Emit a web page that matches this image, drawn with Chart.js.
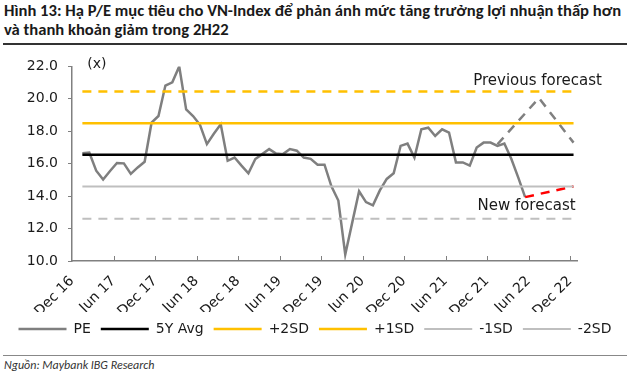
<!DOCTYPE html>
<html lang="vi">
<head>
<meta charset="UTF-8">
<title>Hình 13: P/E mục tiêu VN-Index</title>
<script src="https://cdn.jsdelivr.net/npm/chart.js"></script>
<style>
  body { margin: 0; background: #fff; }
  #wrap { position: relative; width: 630px; height: 375px; overflow: hidden; }
  #title { position: absolute; left: 4px; top: 1px; width: 626px; font: bold 16.6px Carlito, Lato, sans-serif; line-height: 19px; color: #1a1a1a; white-space: nowrap; }
  #rule1 { position: absolute; left: 3px; top: 43px; width: 624px; height: 2px; background: #333; }
  #chart { position: absolute; left: 0; top: 48px; }
  #rule2 { position: absolute; left: 3px; top: 355px; width: 624px; height: 1px; background: #888; }
  #source { position: absolute; left: 4px; top: 358px; font: italic 12px Carlito, Lato, sans-serif; color: #333; }
</style>
</head>
<body>
<div id="wrap">
  <div id="title">Hình 13: Hạ P/E mục tiêu cho VN-Index để phản ánh mức tăng trưởng lợi nhuận thấp hơn<br>và thanh khoản giảm trong 2H22</div>
  <div id="rule1"></div>
  <canvas id="chart" width="630" height="300"></canvas>
  <div id="rule2"></div>
  <div id="source">Nguồn: Maybank IBG Research</div>
</div>
<script>
// x axis labels, one every 6 months starting Dec 16
const tickLabels = ['Dec 16', 'Jun 17', 'Dec 17', 'Jun 18', 'Dec 18', 'Jun 19', 'Dec 19',
  'Jun 20', 'Dec 20', 'Jun 21', 'Dec 21', 'Jun 22', 'Dec 22']

// monthly PE, Jan 17 .. May 22 (month 1 = Jan 17, counted from Dec 16)
const peStartMonth = 1
const pe = [
  16.65, 16.69, 15.57, 15.02, 15.55, 16.04, 16.02, 15.37, 15.77, 16.12, 18.53, 18.94,
  20.82, 21.02, 22.0, 19.35, 18.94, 18.4, 17.21, 17.85, 18.43, 16.18, 16.38, 15.88,
  15.41, 16.29, 16.59, 16.9, 16.63, 16.59, 16.9, 16.8, 16.38, 16.3, 15.94, 15.94,
  14.6, 13.73, 10.4, 12.35, 14.3, 13.63, 13.43, 14.35, 15.06, 15.41, 17.1, 17.24,
  16.38, 18.12, 18.22, 17.71, 18.12, 17.92, 16.08, 16.08, 15.88, 17.0, 17.3, 17.3,
  17.1, 17.24, 16.3, 15.16, 13.94
]

// 5-year average and bands
const avg5y = 16.55
const plus2sd = 20.45
const plus1sd = 18.5
const minus1sd = 14.6
const minus2sd = 12.6
const bandMonths = [1, 72]

// forecasts
const prevForecastMonths = [61, 67, 72]
const prevForecast = [17.2, 20.05, 17.3]
const newForecastMonths = [65, 72]
const newForecast = [13.94, 14.6]

const mid = (m) => m + 0.5
const peData = pe.map((v, i) => ({ x: mid(peStartMonth + i), y: v }))
const flat = (v) => bandMonths.map((m) => ({ x: mid(m), y: v }))
const prevData = prevForecastMonths.map((m, i) => ({ x: mid(m), y: prevForecast[i] }))
const newData = newForecastMonths.map((m, i) => ({ x: mid(m), y: newForecast[i] }))

const FONT = 'DejaVu Sans'
const AXIS = '#808080'

function lineSet(label, data, color, width, dash, order) {
  return {
    label, data,
    borderColor: color, backgroundColor: color,
    borderWidth: width, borderDash: dash || [],
    pointRadius: 0, pointHoverRadius: 0, pointStyle: 'line',
    tension: 0, order: order || 0,
  }
}

const notes = {
  id: 'notes',
  afterDraw(chart) {
    const { ctx, scales: { x, y }, chartArea } = chart
    ctx.save()
    // inward tick marks on the x axis
    ctx.strokeStyle = AXIS
    ctx.lineWidth = 1
    for (let i = 1; i < tickLabels.length; i++) {
      const px = Math.round(x.getPixelForValue(i * 6)) + 0.5
      ctx.beginPath()
      ctx.moveTo(px, chartArea.bottom)
      ctx.lineTo(px, chartArea.bottom - 5)
      ctx.stroke()
    }
    ctx.fillStyle = '#1a1a1a'
    ctx.font = '14px ' + FONT
    ctx.textBaseline = 'middle'
    ctx.textAlign = 'left'
    ctx.fillText('(x)', x.getPixelForValue(2.2), y.getPixelForValue(22.1))
    ctx.font = '15px ' + FONT
    ctx.textAlign = 'center'
    ctx.fillText('Previous forecast', x.getPixelForValue(67.3), y.getPixelForValue(21.08))
    ctx.fillText('New forecast', x.getPixelForValue(65.7), y.getPixelForValue(13.37))
    ctx.restore()
  }
}

new Chart(document.getElementById('chart'), {
  type: 'line',
  data: {
    datasets: [
      lineSet('PE', peData, '#7f7f7f', 2.5, null, 10),
      lineSet('5Y Avg', flat(avg5y), '#000000', 2.5),
      lineSet('+2SD', flat(plus2sd), '#ffc000', 2.5, [9, 7]),
      lineSet('+1SD', flat(plus1sd), '#ffc000', 2.5),
      lineSet('-1SD', flat(minus1sd), '#bfbfbf', 2),
      lineSet('-2SD', flat(minus2sd), '#bfbfbf', 2, [9, 7]),
      lineSet('Previous forecast', prevData, '#808080', 2.5, [9, 7]),
      lineSet('New forecast', newData, '#ff0000', 2.5, [9, 7]),
    ]
  },
  options: {
    responsive: false,
    animation: false,
    layout: { padding: { top: 17, left: 0, right: 0, bottom: 2 } },
    plugins: {
      tooltip: { enabled: false },
      legend: {
        position: 'bottom',
        labels: {
          font: { family: FONT, size: 14 },
          color: '#1a1a1a',
          usePointStyle: true,
          pointStyle: 'line',
          pointStyleWidth: 48,
          padding: 10,
          filter: (item) => item.text.indexOf('forecast') < 0,
          sort: (a, b) => a.datasetIndex - b.datasetIndex,
        }
      }
    },
    scales: {
      x: {
        type: 'linear',
        min: 0,
        max: 73,
        afterBuildTicks: (s) => { s.ticks = tickLabels.map((_, i) => ({ value: i * 6 })) },
        afterFit: (s) => { s.height = 51 },
        grid: { display: false },
        border: { color: AXIS, width: 1.5 },
        ticks: {
          autoSkip: false,
          maxRotation: 45,
          minRotation: 45,
          padding: 4,
          color: '#1a1a1a',
          font: { family: FONT, size: 14 },
          callback: (v) => tickLabels[v / 6],
        }
      },
      y: {
        min: 10,
        max: 22,
        afterFit: (s) => { s.width = 72 },
        grid: { drawOnChartArea: false, drawTicks: true, tickLength: 4, color: AXIS },
        border: { color: AXIS, width: 1.5 },
        ticks: {
          stepSize: 2,
          padding: 10,
          color: '#1a1a1a',
          font: { family: FONT, size: 14 },
          callback: (v) => v.toFixed(1),
        }
      },
      yRight: {
        position: 'right',
        display: true,
        afterFit: (s) => { s.width = 53 },
        grid: { display: false },
        border: { display: false },
        ticks: { display: false },
      }
    }
  },
  plugins: [notes]
})
</script>
</body>
</html>
